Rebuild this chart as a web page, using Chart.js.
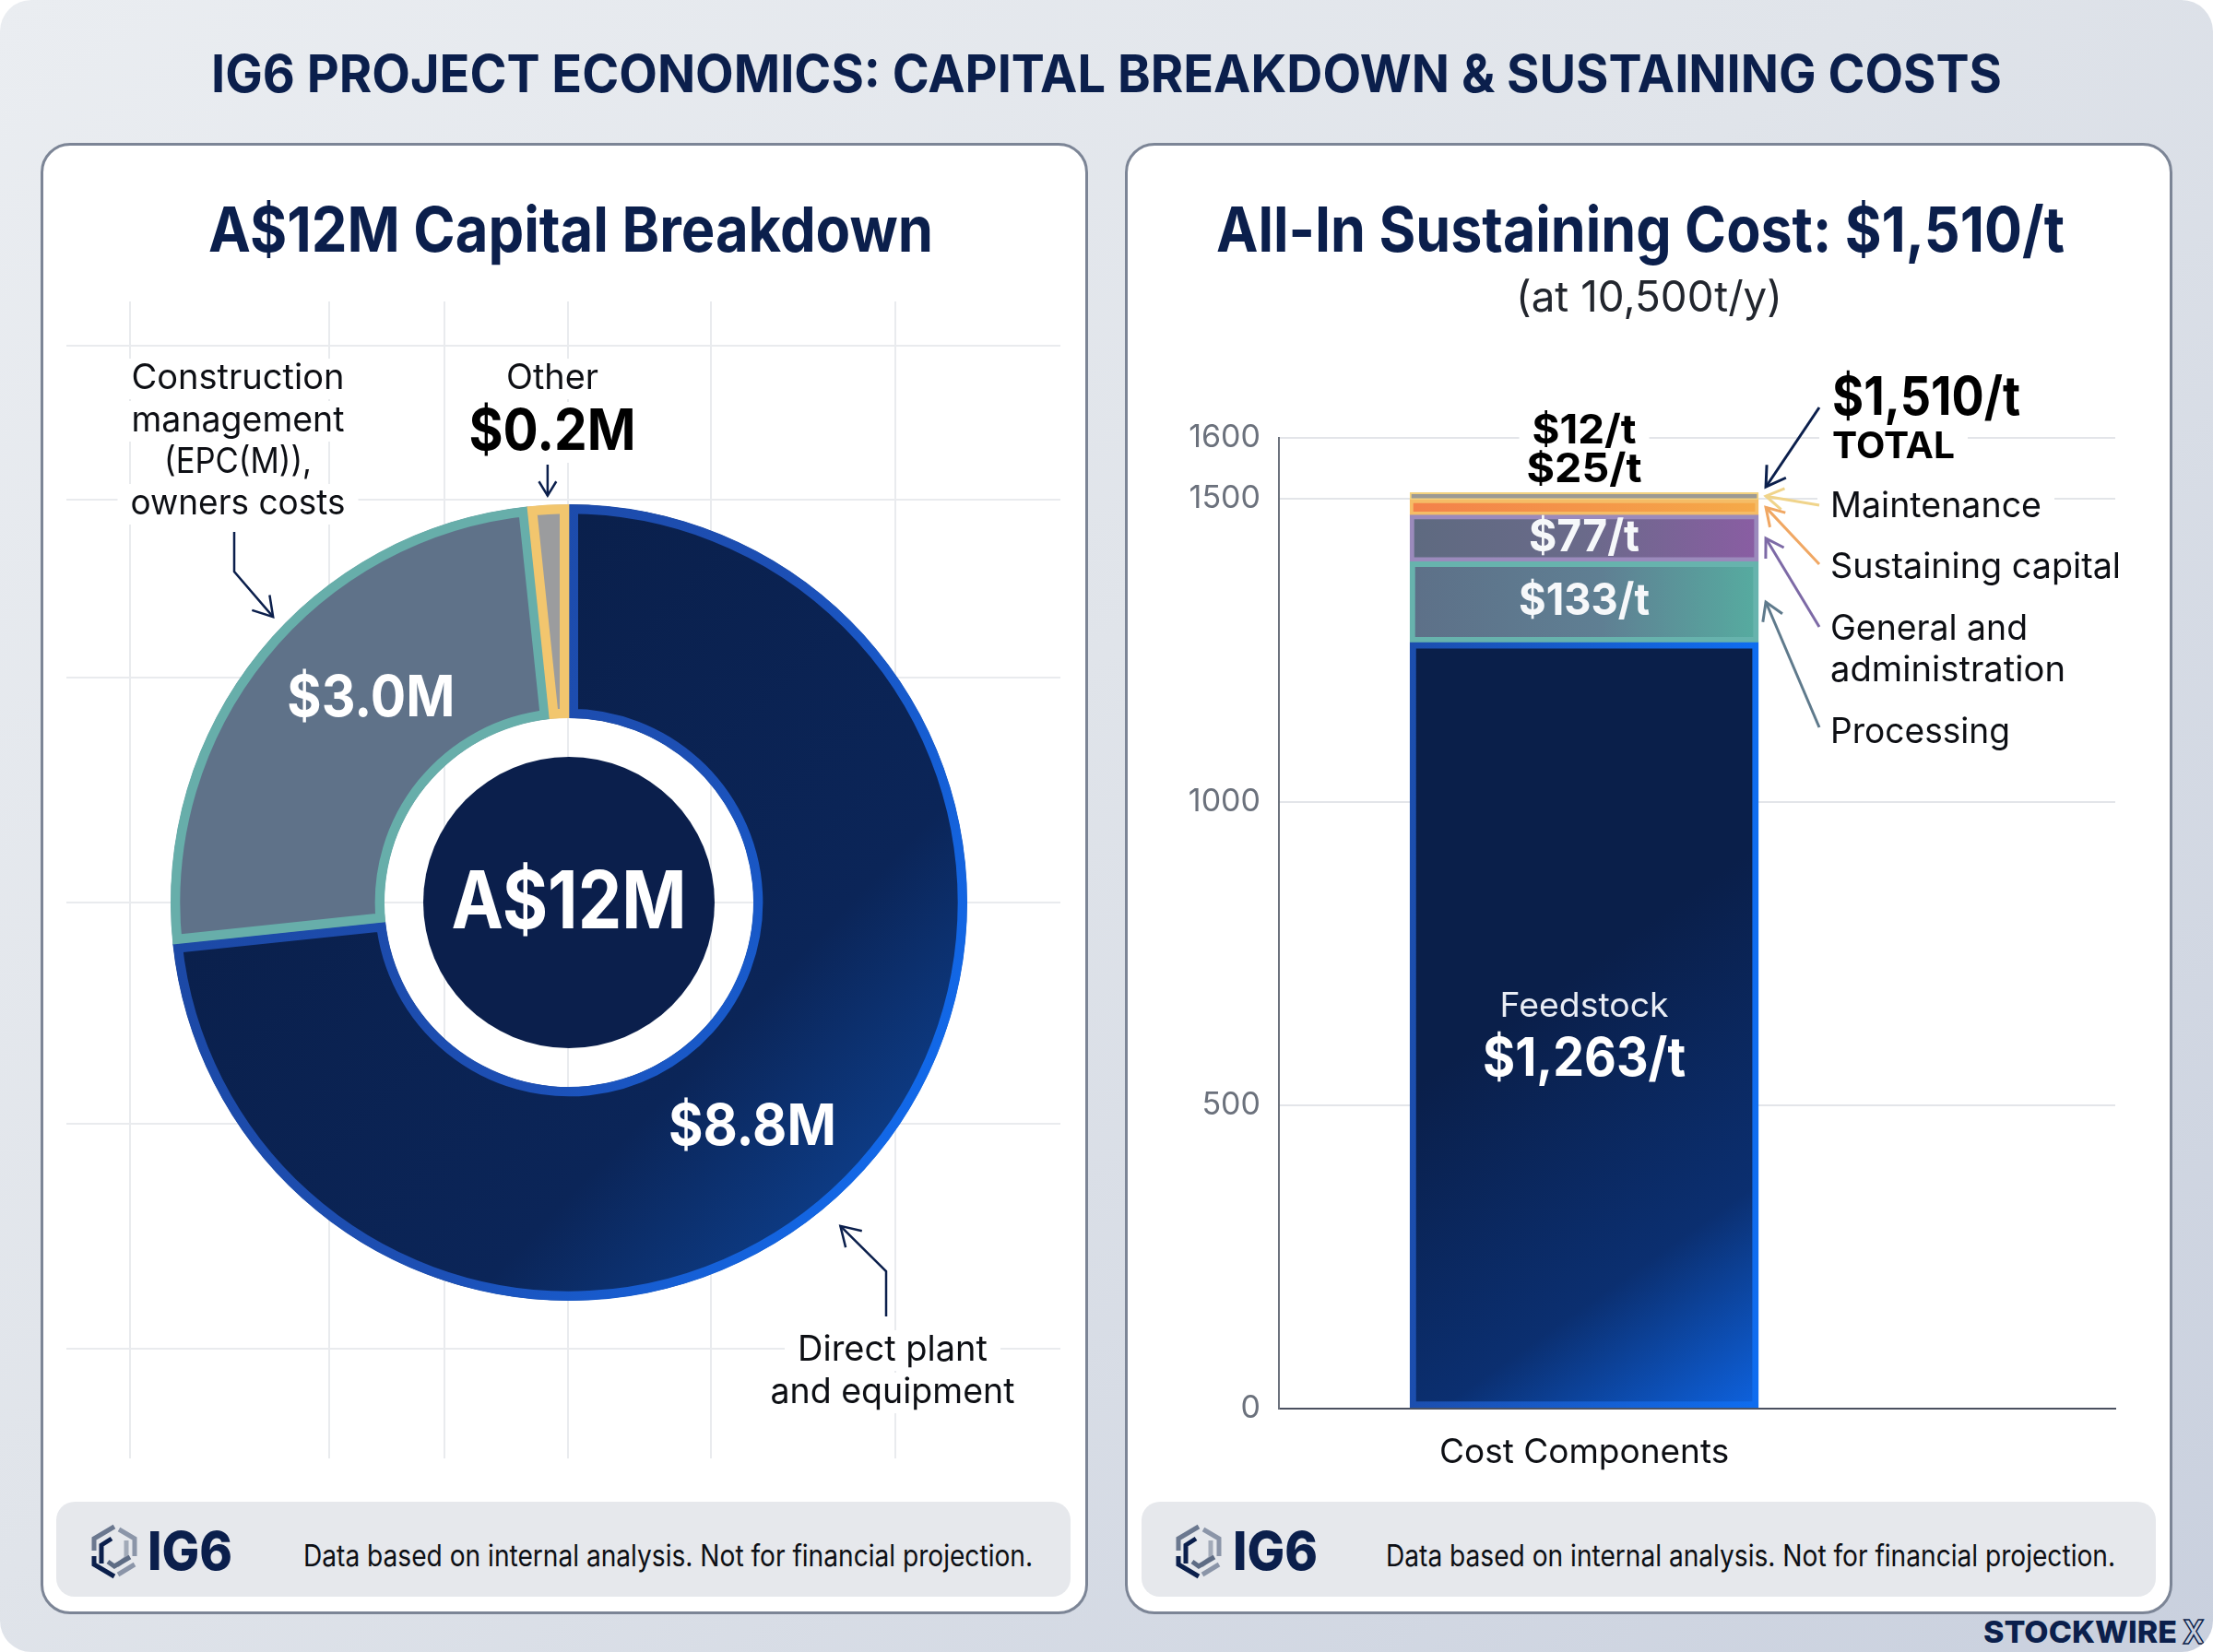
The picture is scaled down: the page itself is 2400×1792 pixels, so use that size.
<!DOCTYPE html>
<html>
<head>
<meta charset="utf-8">
<title>IG6 Project Economics</title>
<script src="https://cdn.jsdelivr.net/npm/chart.js@4"></script>
<style>
  html, body { margin: 0; padding: 0; background: #fff; }
  #page { position: relative; width: 2400px; height: 1792px; overflow: hidden; font-family: Inter, sans-serif;
    border-radius: 34px; background: linear-gradient(140deg, #eaedf1 0%, #e0e4ea 45%, #c9d0de 100%); }
  .panel { position: absolute; top: 155px; width: 1130px; height: 1590px; background: #fff; border: 3px solid #7c8596;
    border-radius: 32px; box-sizing: content-box; }
  .foot { position: absolute; top: 1629px; height: 103px; background: #e6e8ec; border-radius: 20px; }
  canvas { position: absolute; top: 320px; }
  .t { position: absolute; white-space: nowrap; line-height: 1; transform-origin: 0 50%; }
  .mark { position: absolute; top: 1652px; width: 54px; height: 62px; }
</style>
</head>
<body>
<div id="page">
  <div class="panel" style="left:44px"></div>
  <div class="panel" style="left:1220px"></div>
  <div class="foot" style="left:61px;width:1100px"></div>
  <div class="foot" style="left:1238px;width:1100px"></div>
  <canvas id="capital" width="1130" height="1300" style="left:46px"></canvas>
  <canvas id="sustaining" width="1130" height="1300" style="left:1224px"></canvas>
</div>
<script>
// Capital breakdown, A$ millions
const capitalCategories = ['Direct plant and equipment', 'Construction management (EPC(M)), owners costs', 'Other'];
const capitalValues = [8.8, 3.0, 0.2];

// All-in sustaining cost stack, $/t
const costCategory = 'Cost Components';
const feedstock = [1263];
const processing = [133];
const generalAdmin = [77];
const sustainingCapital = [25];
const maintenance = [12];
const costTotal = [1510];
const costTicks = [0, 500, 1000, 1500, 1600];

const NAVY = '#0b1f4c';
const INK = '#0d0f14';
const money = v => '$' + v.toLocaleString('en-US') + '/t';
const millions = v => '$' + v.toFixed(1) + 'M';

const page = document.getElementById('page');

// Positions a line of HTML text and narrows it to the wanted width
function addText(str, o) {
  const el = document.createElement('div');
  el.className = 't';
  el.textContent = str;
  el.style.font = o.font;
  el.style.color = o.color;
  if (o.extra) el.style.cssText += o.extra;
  page.appendChild(el);
  const natural = el.getBoundingClientRect().width;
  const sx = o.w ? o.w / natural : 1;
  const drawn = natural * sx;
  const left = o.left !== undefined ? o.left : o.cx - drawn / 2;
  el.style.left = left + 'px';
  el.style.top = (o.cy - el.getBoundingClientRect().height / 2) + 'px';
  el.style.transform = 'scaleX(' + sx + ')';
}

// Same idea on a chart canvas
function canvasText(ctx, str, x, y, font, color, w, align) {
  ctx.save();
  ctx.font = font;
  ctx.fillStyle = color;
  ctx.textBaseline = 'middle';
  ctx.textAlign = 'left';
  const natural = ctx.measureText(str).width;
  const sx = w ? w / natural : 1;
  const drawn = natural * sx;
  const left = align === 'left' ? x : x - drawn / 2;
  ctx.translate(left, y);
  ctx.scale(sx, 1);
  ctx.fillText(str, 0, 0);
  ctx.restore();
}

function maskedText(ctx, str, x, y, font, color, w, h, align) {
  const left = align === 'left' ? x : x - w / 2;
  ctx.save();
  ctx.fillStyle = '#fff';
  ctx.fillRect(left - 14, y - h / 2, w + 28, h);
  ctx.restore();
  canvasText(ctx, str, x, y, font, color, w, align);
}

function arrow(ctx, pts, color, lw, head) {
  const n = pts.length;
  const [tx, ty] = pts[n - 1];
  const [px, py] = pts[n - 2];
  const a = Math.atan2(ty - py, tx - px);
  ctx.save();
  ctx.strokeStyle = color;
  ctx.lineWidth = lw;
  ctx.lineJoin = 'miter';
  ctx.beginPath();
  pts.forEach((p, i) => i ? ctx.lineTo(p[0], p[1]) : ctx.moveTo(p[0], p[1]));
  ctx.stroke();
  ctx.beginPath();
  ctx.moveTo(tx - head * Math.cos(a - 0.55), ty - head * Math.sin(a - 0.55));
  ctx.lineTo(tx, ty);
  ctx.lineTo(tx - head * Math.cos(a + 0.55), ty - head * Math.sin(a + 0.55));
  ctx.stroke();
  ctx.restore();
}

// Page furniture
addText('IG6 PROJECT ECONOMICS: CAPITAL BREAKDOWN & SUSTAINING COSTS', { cx: 1200, cy: 79, font: '700 57px Inter', color: NAVY, w: 1942 });
addText('A$12M Capital Breakdown', { cx: 619, cy: 248, font: '700 68px Inter', color: NAVY, w: 786 });
addText('All-In Sustaining Cost: $1,510/t', { cx: 1779, cy: 248, font: '700 68px Inter', color: NAVY, w: 920 });
addText('(at 10,500t/y)', { cx: 1788, cy: 321, font: '400 46px Inter', color: '#22262e', w: 289 });
[[329, 160], [1503, 1337]].forEach(([textLeft, logoLeft]) => {
  addText('Data based on internal analysis. Not for financial projection.', { left: textLeft, cy: 1687, font: '400 32px Inter', color: INK, w: 791 });
  addText('IG6', { left: logoLeft, cy: 1682, font: '800 58px Inter', color: NAVY, w: 92 });
});
addText('STOCKWIRE', { left: 2151, cy: 1770, font: '800 33px Inter', color: NAVY, w: 210 });
addText('X', { left: 2367, cy: 1770, font: '700 35px Inter', color: 'transparent', w: 24, extra: '-webkit-text-stroke:1.5px #0b1f4c;' });

// Hexagonal logo mark, one per footer
[97, 1273].forEach(x => {
  const svg = '<svg class="mark" style="left:' + x + 'px" viewBox="0 0 54 62" fill="none" stroke-width="5" stroke-linejoin="miter">' +
    '<path d="M5 30V17L27 4" stroke="#6b788f"/>' +
    '<path d="M32 7l17 10v19" stroke="#8b95a8"/>' +
    '<path d="M40 19v19l-10 8" stroke="#a2aab8"/>' +
    '<path d="M13 44V24l11-7" stroke="#0b1f4c"/>' +
    '<path d="M5 36v9l22 13" stroke="#0b1f4c"/>' +
    '<path d="M20 42l7 5 17-10" stroke="#5e6c84"/>' +
    '<path d="M31 56l18-11" stroke="#8b95a8"/></svg>';
  page.insertAdjacentHTML('beforeend', svg);
});

Chart.defaults.animation = false;
Chart.defaults.responsive = false;
Chart.defaults.plugins.legend.display = false;
Chart.defaults.plugins.tooltip.enabled = false;

// Capital doughnut
const backdropX = [95, 311, 436, 570, 725, 925];
const backdropY = [55, 222, 415, 659, 899, 1143];

const polar = (arc, deg, r) => {
  const t = deg * Math.PI / 180;
  return [arc.x + r * Math.sin(t), arc.y - r * Math.cos(t)];
};

const capitalDecor = {
  id: 'capitalDecor',
  beforeDraw(chart) {
    const c = chart.ctx;
    c.save();
    c.strokeStyle = '#e9ebee';
    c.lineWidth = 2;
    backdropX.forEach(x => { c.beginPath(); c.moveTo(x, 7); c.lineTo(x, 1262); c.stroke(); });
    backdropY.forEach(y => { c.beginPath(); c.moveTo(26, y); c.lineTo(1104, y); c.stroke(); });
    c.restore();
  },
  afterDatasetsDraw(chart) {
    const c = chart.ctx;
    const arc = chart.getDatasetMeta(0).data[0];
    const R = arc.outerRadius;

    // Hub disc with the total
    c.save();
    c.fillStyle = '#0b1f4c';
    c.beginPath();
    c.arc(arc.x, arc.y, 158, 0, Math.PI * 2);
    c.fill();
    c.restore();
    const total = capitalValues.reduce((a, b) => a + b, 0);
    canvasText(c, 'A$' + Math.round(total) + 'M', arc.x, arc.y + 2, '700 86px Inter', '#fff', 255);

    // Values on the slices
    const [dx, dy] = polar(arc, 140.4, 312);
    canvasText(c, millions(capitalValues[0]), dx, dy + 4, '700 62px Inter', '#fff', 182);
    const [cx, cy] = polar(arc, 316, 309);
    canvasText(c, millions(capitalValues[1]), cx, cy + 2, '700 62px Inter', '#fff', 182);

    // Outside labels
    const regular = '400 38px Inter';
    maskedText(c, 'Construction', 212, 91, regular, INK, 231, 44);
    maskedText(c, 'management', 212, 137, regular, INK, 231, 44);
    maskedText(c, '(EPC(M)),', 212, 182, regular, INK, 160, 44);
    maskedText(c, 'owners costs', 212, 227, regular, INK, 233, 44);
    maskedText(c, 'Other', 553, 91, regular, INK, 100, 44);
    maskedText(c, millions(capitalValues[2]), 553, 149, '700 62px Inter', '#000', 181, 66);
    maskedText(c, 'Direct plant', 922, 1145, regular, INK, 206, 44);
    maskedText(c, 'and equipment', 922, 1191, regular, INK, 265, 44);

    // Leaders
    const tipOther = polar(arc, 357, R + 10);
    arrow(c, [[tipOther[0], 184], tipOther], NAVY, 2.5, 18);
    arrow(c, [[208, 257], [208, 300], polar(arc, 314, R + 14)], NAVY, 2.5, 24);
    arrow(c, [[915, 1108], [915, 1059], polar(arc, 140, R + 26)], NAVY, 2.5, 24);
  }
};

new Chart(document.getElementById('capital'), {
  type: 'doughnut',
  plugins: [capitalDecor],
  data: {
    labels: capitalCategories,
    datasets: [{
      data: capitalValues,
      borderWidth: 10,
      borderAlign: 'inner',
      backgroundColor: ctx => {
        if (ctx.dataIndex === 1) return '#5f7289';
        if (ctx.dataIndex === 2) return '#9b9c9e';
        const g = ctx.chart.ctx.createLinearGradient(300, 420, 1000, 1090);
        g.addColorStop(0, '#0a1f4a');
        g.addColorStop(0.6, '#0b2558');
        g.addColorStop(1, '#0f4eaa');
        return g;
      },
      borderColor: ctx => {
        if (ctx.dataIndex === 1) return '#67aeaa';
        if (ctx.dataIndex === 2) return '#f2c66e';
        const g = ctx.chart.ctx.createLinearGradient(200, 500, 1000, 900);
        g.addColorStop(0, '#1c48a4');
        g.addColorStop(0.5, '#1d4fb4');
        g.addColorStop(1, '#106cf0');
        return g;
      }
    }]
  },
  options: {
    layout: { padding: { left: 139, right: 127, top: 227, bottom: 209 } },
    cutout: '46.3%',
    rotation: 0
  }
});

// Sustaining cost stack
const BAR_AT = 0.365;
const BAR_WIDTH = 378;

// Colours resolve once before layout, so the scales may not have a range yet
const barGradient = (stops, vertical) => ctx => {
  const { x, y } = ctx.chart.scales;
  const fallback = stops[0][1];
  if (!ctx.chart.chartArea || !x || !y) return fallback;
  const left = x.getPixelForValue(BAR_AT) - BAR_WIDTH / 2;
  const yTop = y.getPixelForValue(620);
  const yBase = y.getPixelForValue(0);
  if (![left, yTop, yBase].every(Number.isFinite)) return fallback;
  const c = ctx.chart.ctx;
  const g = vertical
    ? c.createLinearGradient(left + 90, yTop, left + BAR_WIDTH, yBase)
    : c.createLinearGradient(left, 0, left + BAR_WIDTH, 0);
  stops.forEach(([at, col]) => g.addColorStop(at, col));
  return g;
};

const stackSeries = [
  { label: 'Feedstock', values: feedstock, border: 7,
    fill: barGradient([[0, '#0a1f4a'], [0.6, '#0b2f70'], [1, '#0e63e0']], true),
    edge: barGradient([[0, '#1c4eae'], [1, '#0f6df0']], false) },
  { label: 'Processing', values: processing, border: 6,
    fill: barGradient([[0, '#5d7088'], [0.55, '#5f7f93'], [1, '#56aca0']], false), edge: '#67b3ad' },
  { label: 'General and administration', values: generalAdmin, border: 5,
    fill: barGradient([[0, '#5e6a80'], [0.5, '#6a6a8a'], [1, '#8a5da3']], false), edge: '#9b8abc' },
  { label: 'Sustaining capital', values: sustainingCapital, border: 4,
    fill: barGradient([[0, '#f3814a'], [1, '#f5aa48']], false), edge: '#f5bc66' },
  { label: 'Maintenance', values: maintenance, border: 2,
    fill: '#9c9a94', edge: '#f3d27f' }
];

const costDecor = {
  id: 'costDecor',
  afterDatasetsDraw(chart) {
    const c = chart.ctx;
    const { x, y } = chart.scales;
    const cx = x.getPixelForValue(BAR_AT);
    const edge = cx + BAR_WIDTH / 2 + 8;
    const base = feedstock[0];
    const procMid = base + processing[0] / 2;
    const gaMid = base + processing[0] + generalAdmin[0] / 2;
    const sustMid = base + processing[0] + generalAdmin[0] + sustainingCapital[0] / 2;
    const maintMid = base + processing[0] + generalAdmin[0] + sustainingCapital[0] + maintenance[0] / 2;
    const top = y.getPixelForValue(costTotal[0]);

    // Values that fit inside their segment
    const feedY = y.getPixelForValue(base) + 395;
    canvasText(c, 'Feedstock', cx, feedY, '400 37px Inter', '#e9edf5', 183);
    canvasText(c, money(feedstock[0]), cx, feedY + 58, '700 58px Inter', '#fff', 220);
    canvasText(c, money(processing[0]), cx, y.getPixelForValue(procMid), '700 48px Inter', '#f6f8fa', 142);
    canvasText(c, money(generalAdmin[0]), cx, y.getPixelForValue(gaMid), '700 48px Inter', '#f6f8fa', 120);

    // The two thin top segments carry their values above the stack
    maskedText(c, money(sustainingCapital[0]), cx, top - 24, '700 44px Inter', '#000', 125, 40);
    maskedText(c, money(maintenance[0]), cx, top - 66, '700 44px Inter', '#000', 113, 40);

    // Side labels
    const sideX = 761;
    const regular = '400 38px Inter';
    maskedText(c, money(costTotal[0]), sideX + 2, 113, '700 58px Inter', '#000', 204, 62, 'left');
    maskedText(c, 'TOTAL', sideX + 2, 165, '700 40px Inter', '#000', 133, 40, 'left');
    maskedText(c, 'Maintenance', sideX, 230, regular, INK, 229, 44, 'left');
    maskedText(c, 'Sustaining capital', sideX, 296, regular, INK, 315, 46, 'left');
    maskedText(c, 'General and', sideX, 363, regular, INK, 214, 44, 'left');
    maskedText(c, 'administration', sideX, 408, regular, INK, 255, 44, 'left');
    maskedText(c, 'Processing', sideX, 475, regular, INK, 195, 44, 'left');

    // Leaders running to each segment
    arrow(c, [[749, 122], [edge, top - 6]], NAVY, 3, 24);
    arrow(c, [[749, 228], [edge, y.getPixelForValue(maintMid)]], '#f0d48b', 3, 22);
    arrow(c, [[749, 292], [edge, y.getPixelForValue(sustMid)]], '#f0a763', 3, 22);
    arrow(c, [[749, 360], [edge, y.getPixelForValue(gaMid)]], '#7d6aa6', 3, 22);
    arrow(c, [[749, 469], [edge, y.getPixelForValue(procMid)]], '#5f7a8c', 3, 22);
  }
};

new Chart(document.getElementById('sustaining'), {
  type: 'bar',
  plugins: [costDecor],
  data: {
    datasets: stackSeries.map(s => ({
      label: s.label,
      data: s.values.map(v => ({ x: BAR_AT, y: v })),
      backgroundColor: s.fill,
      borderColor: s.edge,
      borderWidth: s.border,
      borderSkipped: false,
      barThickness: BAR_WIDTH
    }))
  },
  options: {
    layout: { padding: { top: 155, right: 60 } },
    scales: {
      x: {
        type: 'linear',
        stacked: true,
        offset: false,
        min: 0,
        max: 1,
        afterBuildTicks: s => { s.ticks = [{ value: BAR_AT }]; },
        afterFit: s => { s.height = 92; },
        ticks: { callback: () => costCategory, color: INK, font: { family: 'Inter', size: 37 }, padding: 18, maxRotation: 0, autoSkip: false },
        grid: { display: false },
        border: { color: '#4b5160', width: 2 }
      },
      y: {
        stacked: true,
        min: 0,
        max: 1600,
        afterBuildTicks: s => { s.ticks = costTicks.map(v => ({ value: v })); },
        afterFit: s => { s.width = 163; },
        ticks: { callback: v => String(v), color: '#6b717c', font: { family: 'Inter', size: 34 }, padding: 20, autoSkip: false },
        grid: { color: '#e3e5e9', lineWidth: 2, drawTicks: false },
        border: { color: '#6b717c', width: 2 }
      }
    }
  }
});
</script>
</body>
</html>
